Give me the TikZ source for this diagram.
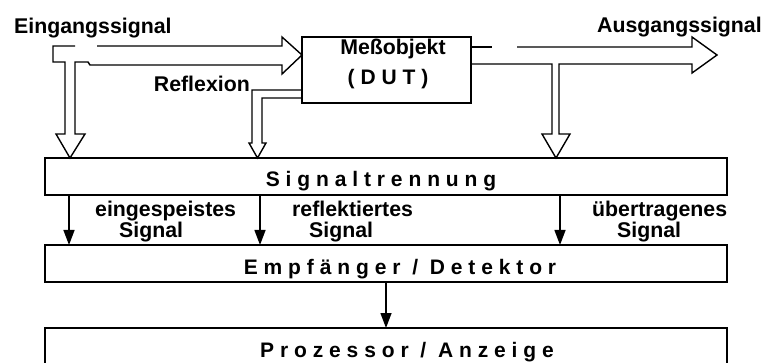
\documentclass[tikz,border=0pt]{standalone}
\usepackage{fontspec}
\setmainfont{Liberation Sans}
\newfontfamily\spacedfont[LetterSpace=28]{Liberation Sans}
\usetikzlibrary{calc,positioning,arrows.meta}

\begin{document}
\begin{tikzpicture}[x=1pt,y=-1pt]
 \useasboundingbox (0,0) rectangle (765,363);

\tikzstyle{block}=[draw,line width=1.6pt,rectangle,inner sep=0pt,outer sep=0pt,minimum width=682pt,minimum height=37pt]
\tikzstyle{blocktext}=[inner sep=0pt,anchor=base,font=\spacedfont\bfseries\fontsize{21}{21}\selectfont]
\tikzstyle{sigtext}=[inner sep=0pt,font=\bfseries\fontsize{21.3}{21.5}\selectfont]
\tikzstyle{hollow}=[line width=1.4pt,line join=miter]
\tikzstyle{sigarrow}=[line width=1.4pt,-{Triangle[width=11pt,length=15pt]}]

   %draw blocks
    \node (trenn) [block] at (386,176.5) {};
    \node (empf) [block] at (386,263.5) {};
    \node (proz) [block] at (386,346.5) {};
    \node (dut) [block,minimum width=169pt,minimum height=66pt] at (386.5,70) {};

    \node (trenn_txt) [blocktext] at ($(trenn.north)+(-5,29)$) {Signaltrennung};
    \node (empf_txt) [blocktext] at ($(empf.north)+(14,29)$) {Empfänger / Detektor};
    \node (proz_txt) [blocktext] at ($(proz.north)+(21,29)$) {Prozessor / Anzeige};

    \node (dut_txt) [sigtext,anchor=base] at ($(dut.north)+(6.5,18)$) {Meßobjekt};
    \node (dut_id) [sigtext,anchor=base,font=\spacedfont\bfseries\fontsize{21}{21}\selectfont] at ($(dut.south)+(1.5,-18)$) {(DUT)};

   %draw signal labels
    \node (in_label) [sigtext,anchor=base west] at (14,34) {Eingangssignal};
    \node (out_label) [sigtext,anchor=base west] at (597,33) {Ausgangssignal};
    \node (refl_label) [sigtext,anchor=base east] at (250,92) {Reflexion};

    %base is the last line here
    \node (ein_label) [sigtext,anchor=base west,align=left] at (95,238) {eingespeistes\\\hspace*{24pt}Signal};
    \node (ref_label) [sigtext,anchor=base west,align=left] at (292,238) {reflektiertes\\\hspace*{17pt}Signal};
    \node (ueb_label) [sigtext,anchor=base west,align=left] at (592,238) {übertragenes\\\hspace*{25pt}Signal};

   %draw input signal
    \draw [hollow] (75,46) -- (53,46) -- (53,62) -- (65,62) -- (65,134) -- (56,134) -- (70,158) -- (85,134) -- (75,134) -- (75,62) -- (88,62) -- (90,65) -- (282,65) -- (282,74) -- (302,55) -- (282,37) -- (282,46) -- (97,46);

   %draw reflexion
    \draw [hollow] (302,90) -- (252,90) -- (252,143) -- (249,143) -- (257.5,158) -- (266,143) -- (262,143) -- (262,98) -- (302,98);

   %draw output signal
    \draw [hollow] (471,47) -- (492,47);
    \draw [hollow] (517,47) -- (692,47) -- (692,37) -- (717,55) -- (692,73) -- (692,64) -- (559,64) -- (559,134) -- (570,134) -- (556,158) -- (542,134) -- (552,134) -- (552,64) -- (471,64);

   %separated signals
    \draw [sigarrow] ($(trenn.south west)+(24,0)$) -- ($(empf.north west)+(24,0)$);
    \draw [sigarrow] ($(trenn.south west)+(215,0)$) -- ($(empf.north west)+(215,0)$);
    \draw [sigarrow] ($(trenn.south west)+(515,0)$) -- ($(empf.north west)+(515,0)$);

    \draw [sigarrow] (empf.south) -- (proz.north);

\end{tikzpicture}
\end{document}
